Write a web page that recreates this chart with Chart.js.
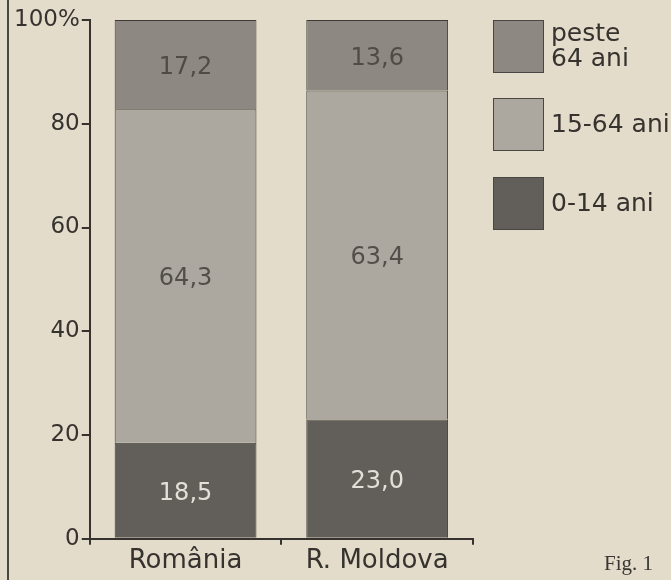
<!DOCTYPE html>
<html>
<head>
<meta charset="utf-8">
<script src="https://cdn.jsdelivr.net/npm/chart.js@4/dist/chart.umd.min.js"></script>
<style>
  body { margin: 0; background: #e3dccb; }
  #wrap { position: relative; width: 671px; height: 580px; }
  #edge { position: absolute; left: 7px; top: 0; width: 2px; height: 580px; background: #4a4642; }
  #fig { position: absolute; left: 604px; top: 551px; font: 21px "Liberation Serif", serif; color: #3a3632; }
</style>
</head>
<body>
<div id="wrap">
  <canvas id="chart" width="671" height="580"></canvas>
  <div id="edge"></div>
  <div id="fig">Fig. 1</div>
</div>
<script>
// categories and series (percent of population by age group)
const categories = ["România", "R. Moldova"]
const age0to14 = [18.5, 23.0]
const age15to64 = [64.3, 63.4]
const age65plus = [17.2, 13.6]
const yTicks = [0, 20, 40, 60, 80, 100]

const ink = "#36322e"
const font = "'DejaVu Sans', Verdana, sans-serif"

const series = [
  { label: ["0-14 ani"], data: age0to14, color: "#625e59", text: "#e4e0d8" },
  { label: ["15-64 ani"], data: age15to64, color: "#aca89f", text: "#524e49" },
  { label: ["peste", "64 ani"], data: age65plus, color: "#8d8982", text: "#4f4b46" },
]

// numbers written inside each segment, with a comma as decimal mark
const segmentLabels = {
  id: "segmentLabels",
  afterDatasetsDraw(chart) {
    const ctx = chart.ctx
    ctx.save()
    ctx.font = `24px ${font}`
    ctx.textAlign = "center"
    ctx.textBaseline = "middle"
    chart.data.datasets.forEach((ds, i) => {
      chart.getDatasetMeta(i).data.forEach((bar, j) => {
        const { x, y, base } = bar.getProps(["x", "y", "base"], true)
        ctx.fillStyle = series[i].text
        ctx.fillText(ds.data[j].toFixed(1).replace(".", ","), x, (y + base) / 2 + 3)
      })
    })
    ctx.restore()
  },
}

// legend at the right, top group first
const sideLegend = {
  id: "sideLegend",
  afterDraw(chart) {
    const ctx = chart.ctx
    const tops = [20, 98, 177]
    ctx.save()
    ctx.font = `25px ${font}`
    ctx.textBaseline = "middle"
    chart.data.datasets.slice().reverse().forEach((ds, k) => {
      const top = tops[k]
      ctx.fillStyle = ds.backgroundColor
      ctx.fillRect(493, top, 50, 52)
      ctx.strokeStyle = "#4a4642"
      ctx.lineWidth = 1
      ctx.strokeRect(493.5, top + 0.5, 50, 52)
      ctx.fillStyle = ink
      const lines = ds.label
      const lh = 25
      const y0 = top + 27 - ((lines.length - 1) * lh) / 2
      lines.forEach((line, n) => ctx.fillText(line, 551, y0 + n * lh))
    })
    ctx.restore()
  },
}

new Chart(document.getElementById("chart"), {
  type: "bar",
  data: {
    labels: categories,
    datasets: series.map((s) => ({
      label: s.label,
      data: s.data,
      backgroundColor: s.color,
      borderColor: "#3d3935",
      borderWidth: 1,
      barPercentage: 0.74,
      categoryPercentage: 1,
    })),
  },
  options: {
    responsive: false,
    animation: false,
    layout: { padding: { left: 12, top: 20, right: 198, bottom: 2 } },
    plugins: { legend: { display: false }, tooltip: { enabled: false } },
    scales: {
      x: {
        stacked: true,
        border: { color: ink, width: 2 },
        grid: { drawOnChartArea: false, color: ink, lineWidth: 2, tickLength: 6 },
        ticks: { color: ink, padding: 1, font: { family: font, size: 26 } },
      },
      y: {
        stacked: true,
        min: 0,
        max: 100,
        border: { color: ink, width: 2 },
        grid: { drawOnChartArea: false, color: ink, lineWidth: 2, tickLength: 8 },
        afterBuildTicks: (axis) => {
          axis.ticks = yTicks.map((v) => ({ value: v }))
        },
        ticks: {
          color: ink,
          padding: 2,
          font: { family: font, size: 23 },
          callback: (v) => (v === 100 ? "100%" : v),
        },
      },
    },
  },
  plugins: [segmentLabels, sideLegend],
})
</script>
</body>
</html>
